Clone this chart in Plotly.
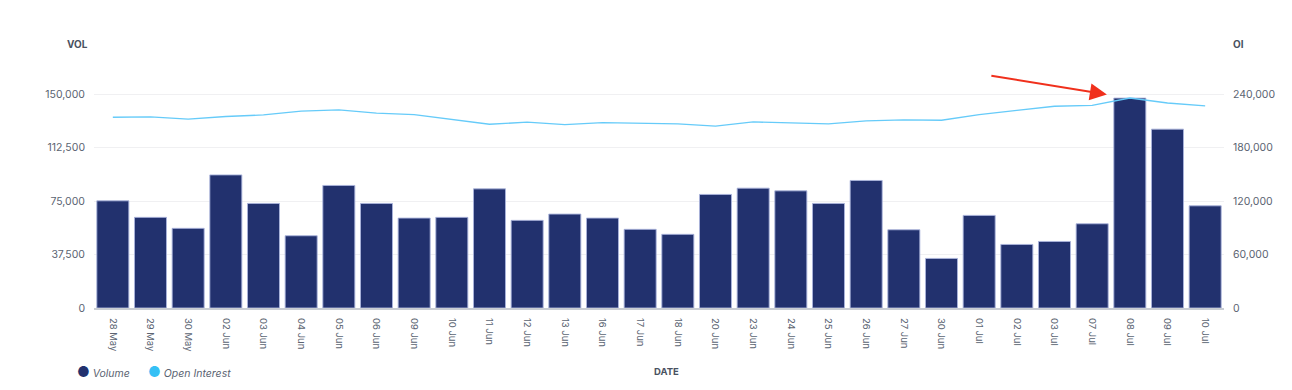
import plotly.graph_objects as go

dates = ["28 May", "29 May", "30 May", "02 Jun", "03 Jun", "04 Jun", "05 Jun", "06 Jun",
         "09 Jun", "10 Jun", "11 Jun", "12 Jun", "13 Jun", "16 Jun", "17 Jun", "18 Jun",
         "20 Jun", "23 Jun", "24 Jun", "25 Jun", "26 Jun", "27 Jun", "30 Jun", "01 Jul",
         "02 Jul", "03 Jul", "07 Jul", "08 Jul", "09 Jul", "10 Jul"]
volume = [75200, 63600, 55900, 93400, 73400, 50700, 86000, 73400,
          63100, 63600, 83600, 61500, 65900, 63100, 55200, 51700,
          79700, 84100, 82200, 73400, 89500, 54900, 34800, 65000,
          44600, 46700, 59100, 147300, 125500, 71700]
open_interest = [214200, 214500, 212000, 215000, 216800, 221000, 222400, 218700,
                 217200, 212000, 206300, 208600, 206000, 208200, 207500, 206700,
                 204100, 208900, 207800, 206700, 210100, 211200, 210800, 217200,
                 222000, 226500, 227600, 235800, 230200, 226900]
vol_ticks = [0, 37500, 75000, 112500, 150000]
oi_ticks = [0, 60000, 120000, 180000, 240000]

NAVY = "#22316e"
BLUE = "#66cbf9"
TXT = "#5b6472"
FONT = "Inter, sans-serif"

fig = go.Figure()
fig.add_trace(go.Bar(x=dates, y=volume, name="Volume", marker=dict(color=NAVY,
                     line=dict(color="rgba(170,180,220,0.9)", width=1)), yaxis="y"))
fig.add_trace(go.Scatter(x=dates, y=open_interest, name="Open Interest", mode="lines",
                         line=dict(color=BLUE, width=1.3), yaxis="y2"))

fig.update_layout(
    width=1292, height=390,
    margin=dict(l=94, r=68, t=80, b=82),
    plot_bgcolor="white", paper_bgcolor="white",
    showlegend=False, bargap=0.15,
    font=dict(family=FONT, size=10.5, color=TXT),
    xaxis=dict(type="category", tickangle=90, showgrid=False, showline=True,
               linecolor="#c9cdd3", linewidth=2, ticks="", ticklabelstandoff=6,
               tickfont=dict(size=9.5, color=TXT)),
    yaxis=dict(range=[0, 160000], tickvals=vol_ticks,
               ticktext=[f"{v:,}" for v in vol_ticks], showgrid=True,
               gridcolor="#f0f0f2", gridwidth=1, zeroline=False, ticks="",
               ticklabelstandoff=8),
    yaxis2=dict(range=[0, 256000], tickvals=oi_ticks,
                ticktext=[f"{v:,}" for v in oi_ticks], overlaying="y", side="right",
                showgrid=False, zeroline=False, ticks="", ticklabelstandoff=8),
)

ann = []
ann.append(dict(text="<b>VOL</b>", x=77, y=44, showarrow=False,
                font=dict(size=10, color="#4a5261")))
ann.append(dict(text="<b>OI</b>", x=1238, y=44, showarrow=False, font=dict(size=10, color="#4a5261")))
ann.append(dict(text="<b>DATE</b>", x=666, y=371, showarrow=False, font=dict(size=9.5, color="#4a5261")))
ann.append(dict(text=f'<span style="color:{NAVY};font-size:14px">●</span> <i>Volume</i>', x=75, y=371,
                xanchor="left", showarrow=False, font=dict(size=10.5, color=TXT)))
ann.append(dict(text=f'<span style="color:#35c0f5;font-size:14px">●</span> <i>Open Interest</i>', x=146, y=371,
                xanchor="left", showarrow=False, font=dict(size=10.5, color=TXT)))

# convert pixel-positioned texts to paper coords
W, H, L, R, T, B = 1292, 390, 94, 68, 80, 82
pw, ph = W - L - R, H - T - B
for a in ann:
    a["x"] = (a["x"] - L) / pw
    a["y"] = (H - B - a["y"]) / ph
    a["xref"] = "paper"
    a["yref"] = "paper"
    a["yanchor"] = "middle"
    a.setdefault("xanchor", "center")
    fig.add_annotation(**a)

# red arrow pointing at the 08 Jul peak
fig.add_annotation(x=26.39, y=149800, xref="x", yref="y", text="", showarrow=True,
                   ax=-117, ay=-19, arrowhead=2, arrowsize=1.7, arrowwidth=2,
                   arrowcolor="#f0301c")

fig.write_html("out.html", config={"displayModeBar": False},
               post_script="document.body.style.margin='0px';")
